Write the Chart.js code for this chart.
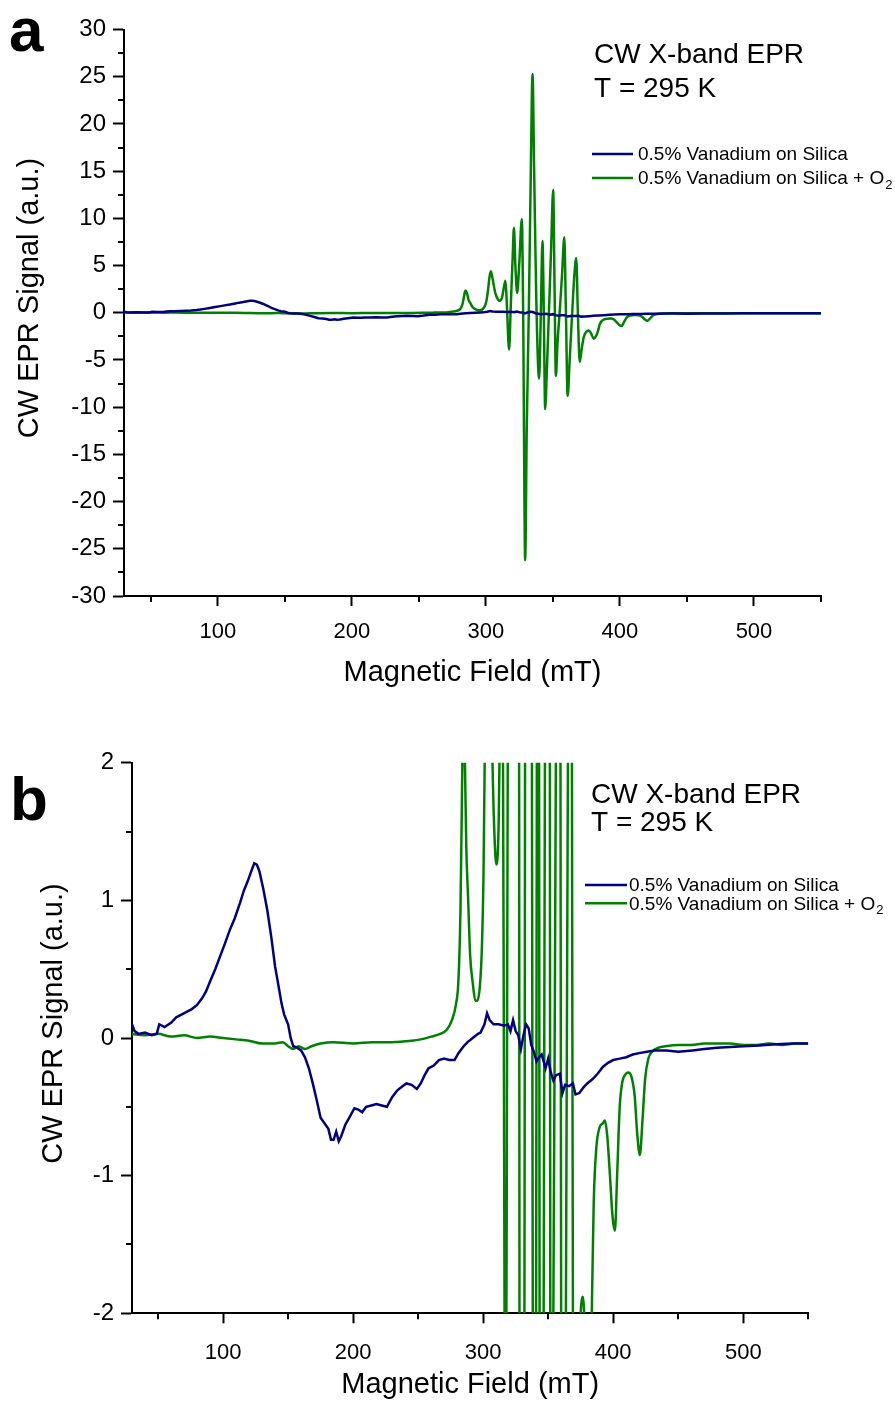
<!DOCTYPE html>
<html>
<head>
<meta charset="utf-8">
<script src="https://cdn.jsdelivr.net/npm/chart.js@4.4.1/dist/chart.umd.min.js"></script>
<style>
  html, body { margin: 0; padding: 0; background: #fff; }
  #wrap { position: relative; width: 895px; height: 1402px; }
  canvas { position: absolute; left: 0; }
</style>
</head>
<body>
<div id="wrap">
  <canvas id="chartA" width="895" height="700" style="top:0"></canvas>
  <canvas id="chartB" width="895" height="702" style="top:700px"></canvas>
</div>
<script>
// ── Data (field in mT, signal in a.u.) ────────────────────────────────
const blueField = [30, 32, 35, 40, 45, 49, 51, 55, 60, 64, 68, 72, 76, 80, 84, 87, 90, 94, 98, 102,
  105, 109, 113, 116, 119, 122, 124, 126, 128, 131, 134, 137, 140, 143, 145, 147, 150, 152, 154, 157,
  160, 163, 166, 169, 172, 175, 178, 181, 183, 185, 187, 189, 191, 194, 197, 201, 204, 207, 210, 214,
  218, 222, 226, 230, 234, 238, 241, 245, 249, 252, 255, 258, 262, 266, 270, 274, 278, 281, 285, 288,
  292, 296, 298, 301, 303, 305, 308, 312, 316, 319, 321, 323, 325, 327, 329, 331, 333, 335, 337, 339,
  341, 343, 345, 348, 350, 352, 354, 356, 359, 361, 363, 366, 369, 371, 374, 377, 380, 384, 388, 392,
  396, 400, 405, 410, 415, 420, 426, 432, 441, 450, 461, 470, 480, 490, 500, 512, 525, 538, 550];
const blueSignal = [0.10, 0.05, 0.03, 0.04, 0.02, 0.03, 0.10, 0.08, 0.11, 0.15, 0.17, 0.19, 0.21, 0.24, 0.29, 0.34, 0.41, 0.50, 0.60, 0.70,
  0.78, 0.87, 0.98, 1.07, 1.14, 1.22, 1.27, 1.26, 1.21, 1.08, 0.93, 0.74, 0.52, 0.36, 0.25, 0.17, 0.10, 0.00, -0.06, -0.07,
  -0.09, -0.14, -0.22, -0.33, -0.45, -0.58, -0.62, -0.66, -0.74, -0.74, -0.68, -0.75, -0.71, -0.63, -0.58, -0.51, -0.52, -0.54, -0.50, -0.49,
  -0.48, -0.49, -0.50, -0.43, -0.38, -0.35, -0.33, -0.34, -0.37, -0.33, -0.27, -0.22, -0.20, -0.16, -0.15, -0.16, -0.16, -0.11, -0.06, -0.03,
  0.00, 0.03, 0.04, 0.10, 0.18, 0.13, 0.10, 0.10, 0.09, 0.10, 0.05, 0.13, 0.05, 0.02, -0.08, 0.02, 0.10, 0.07, -0.05, -0.10,
  -0.17, -0.14, -0.12, -0.22, -0.15, -0.25, -0.31, -0.27, -0.26, -0.40, -0.34, -0.35, -0.33, -0.41, -0.40, -0.36, -0.33, -0.30, -0.26, -0.21,
  -0.18, -0.16, -0.15, -0.14, -0.12, -0.11, -0.10, -0.09, -0.09, -0.10, -0.09, -0.08, -0.07, -0.065, -0.06, -0.055, -0.045, -0.04, -0.04];

const greenField = [30, 40, 50, 60, 70, 80, 90, 100, 110, 120, 130, 140, 146, 150, 154, 158, 163, 168, 175, 185,
  200, 215, 230, 245, 252, 260, 267, 272, 276, 279, 281, 282.5, 283.5, 284.3, 285, 286, 287, 288.5, 290, 292,
  294, 295.5, 297.5, 299, 300.3, 301.5, 302.7, 303.7, 305, 307, 309, 310.4, 312, 313.3, 314.6, 315.6, 317.3, 318.5, 320, 320.9,
  322, 323.3, 325, 326.8, 327.8, 329.3, 330.5, 332, 333.5, 334.8, 336, 337.5, 339.7, 341, 342.2, 343.2, 344.2, 345.5, 347, 348.7,
  350.2, 351.2, 352.2, 353.5, 355, 356.8, 358.5, 359.7, 361, 362.5, 364, 366, 367.4, 368.6, 370, 371.5, 373, 375, 376.7, 378.5,
  380.5, 382, 383.5, 385, 387, 389.5, 392, 393.6, 395.5, 397.5, 399.5, 401.3, 403, 405, 407, 409, 411.5, 414, 416.5, 418.5,
  420.5, 422.5, 424.5, 427, 430, 435, 440, 450, 460, 470, 480, 490, 500, 510, 520, 530, 540, 550];
const greenSignal = [0.03, 0.02, 0.03, 0.01, 0.02, 0.00, 0.01, 0.00, -0.01, -0.02, -0.04, -0.04, -0.03, -0.06, -0.08, -0.06, -0.08, -0.06, -0.04, -0.03,
  -0.04, -0.03, -0.03, -0.02, -0.01, 0.01, 0.03, 0.06, 0.13, 0.24, 0.42, 0.9, 1.6, 2.2, 2.35, 2.0, 1.4, 1.0, 0.6, 0.4,
  0.27, 0.27, 0.38, 0.65, 1.2, 2.3, 3.8, 4.4, 3.6, 2.1, 1.4, 1.26, 1.6, 2.6, 3.4, 1.0, -3.9, 0.5, 6.0, 9.0,
  5.0, 2.1, 5.5, 9.9, 0, -26.2, -12, 0, 15, 25.3, 15, 2, -7.0, 0, 7.6, 0, -10.2, -6, 0, 7,
  13.0, 3, -6.7, -3, 0, 4, 8.0, 0, -8.8, -5, -1, 4, 5.8, 0, -5.2, -3.8, -2.6, -2.0, -1.88, -2.2,
  -2.75, -2.5, -2.0, -1.2, -0.8, -0.65, -0.62, -0.60, -0.72, -1.0, -1.3, -1.40, -1.0, -0.5, -0.32, -0.27, -0.25, -0.28, -0.42, -0.7,
  -0.85, -0.6, -0.3, -0.15, -0.10, -0.07, -0.06, -0.05, -0.05, -0.04, -0.04, -0.04, -0.05, -0.05, -0.04, -0.05, -0.04, -0.04];

const seriesNames = ['0.5% Vanadium on Silica', '0.5% Vanadium on Silica + O\u2082'];
const seriesColors = ['#000080', '#008000'];

const xMajor = [100, 200, 300, 400, 500];
const xMinor = [50, 150, 250, 350, 450, 550];
const yMajorA = [-30, -25, -20, -15, -10, -5, 0, 5, 10, 15, 20, 25, 30];
const yMinorA = [-27.5, -22.5, -17.5, -12.5, -7.5, -2.5, 2.5, 7.5, 12.5, 17.5, 22.5, 27.5];
const yMajorB = [-2, -1, 0, 1, 2];
const yMinorB = [-1.5, -0.5, 0.5, 1.5];

const FONT = "'Liberation Sans', Arial, Helvetica, sans-serif";

const toPts = (xs, ys) => xs.map((x, i) => ({ x, y: ys[i] }));

// Texts, minor ticks and the legend sit on top of the library's own axes.
function decor(cfg) {
  return {
    id: 'decor',
    afterDraw(chart) {
      const ctx = chart.ctx;
      const xs = chart.scales.x, ys = chart.scales.y;
      const area = chart.chartArea;
      ctx.save();
      ctx.strokeStyle = '#000';
      ctx.lineWidth = 2;
      ctx.beginPath();
      xMinor.forEach(v => {
        const px = Math.round(xs.getPixelForValue(v));
        ctx.moveTo(px, area.bottom);
        ctx.lineTo(px, area.bottom + 6);
      });
      cfg.yMinor.forEach(v => {
        const py = Math.round(ys.getPixelForValue(v));
        ctx.moveTo(area.left - 6, py);
        ctx.lineTo(area.left, py);
      });
      ctx.stroke();

      ctx.fillStyle = '#000';
      ctx.textBaseline = 'alphabetic';

      // panel letter
      ctx.font = `bold ${cfg.letterSize}px ${FONT}`;
      ctx.textAlign = 'left';
      ctx.fillText(cfg.letter, cfg.letterX, cfg.letterY);

      // header text
      ctx.font = `28px ${FONT}`;
      ctx.fillText('CW X-band EPR', cfg.headX, cfg.headY1);
      ctx.fillText('T = 295 K', cfg.headX, cfg.headY2);

      // legend
      seriesNames.forEach((name, i) => {
        const ly = cfg.legY[i];
        ctx.strokeStyle = seriesColors[i];
        ctx.lineWidth = 2.5;
        ctx.beginPath();
        ctx.moveTo(cfg.legX0, ly);
        ctx.lineTo(cfg.legX1, ly);
        ctx.stroke();
        ctx.fillStyle = '#000';
        ctx.font = `19px ${FONT}`;
        ctx.textBaseline = 'middle';
        const sub = name.endsWith('\u2082');
        const main = sub ? name.slice(0, -1) : name;
        ctx.fillText(main, cfg.legTextX, ly + 1);
        if (sub) {
          const w = ctx.measureText(main).width;
          ctx.font = `13px ${FONT}`;
          ctx.fillText('2', cfg.legTextX + w + 1, ly + 7);
        }
        ctx.textBaseline = 'alphabetic';
      });

      // axis titles
      ctx.font = `29px ${FONT}`;
      ctx.textAlign = 'center';
      ctx.fillText('Magnetic Field (mT)', (area.left + area.right) / 2, cfg.xTitleY);
      ctx.save();
      ctx.translate(cfg.yTitleX, cfg.yTitleY);
      ctx.rotate(-Math.PI / 2);
      ctx.fillText('CW EPR Signal (a.u.)', 0, 0);
      ctx.restore();
      ctx.restore();
    }
  };
}

function buildChart(canvasId, opt) {
  return new Chart(document.getElementById(canvasId), {
    type: 'scatter',
    data: {
      datasets: [
        { label: seriesNames[0], data: toPts(blueField, blueSignal), borderColor: seriesColors[0] },
        { label: seriesNames[1], data: toPts(greenField, greenSignal), borderColor: seriesColors[1],
          cubicInterpolationMode: 'monotone' }
      ].map(d => Object.assign(d, { showLine: true, pointRadius: 0, borderWidth: 2.5, fill: false }))
    },
    options: {
      responsive: false,
      animation: false,
      events: [],
      layout: { padding: { top: opt.padTop, right: opt.padRight, left: 0, bottom: 0 } },
      plugins: { legend: { display: false }, tooltip: { enabled: false } },
      scales: {
        x: {
          type: 'linear', min: 30, max: 550,
          afterBuildTicks: s => { s.ticks = xMajor.map(v => ({ value: v })); },
          afterFit: s => { s.height = opt.xH; },
          ticks: { font: { family: FONT, size: 22 }, color: '#000', padding: opt.xPad,
                   maxRotation: 0, autoSkip: false, callback: v => String(v) },
          grid: { drawOnChartArea: false, drawTicks: true, tickLength: 10, tickWidth: 2, tickColor: '#000' },
          border: { color: '#000', width: 2 }
        },
        y: {
          type: 'linear', min: opt.yMin, max: opt.yMax,
          afterBuildTicks: s => { s.ticks = opt.yMajor.map(v => ({ value: v })); },
          afterFit: s => { s.width = opt.yW; },
          ticks: { font: { family: FONT, size: 24 }, color: '#000', padding: 7,
                   autoSkip: false, callback: v => String(v) },
          grid: { drawOnChartArea: false, drawTicks: true, tickLength: 11, tickWidth: 2, tickColor: '#000' },
          border: { color: '#000', width: 2 }
        }
      }
    },
    plugins: [decor(opt.decor)]
  });
}

// ── Panel a: full scale ───────────────────────────────────────────────
buildChart('chartA', {
  padTop: 29.5, padRight: 74, xH: 104, yW: 124, xPad: 13,
  yMin: -30, yMax: 30, yMajor: yMajorA,
  decor: {
    yMinor: yMinorA, letter: 'a', letterSize: 62, letterX: 9, letterY: 51,
    headX: 594, headY1: 63, headY2: 97,
    legX0: 592, legX1: 633, legY: [154, 178], legTextX: 638,
    xTitleY: 681, yTitleX: 38, yTitleY: 298
  }
});

// ── Panel b: zoom on ±2 ───────────────────────────────────────────────
buildChart('chartB', {
  padTop: 62.7, padRight: 86.7, xH: 88.7, yW: 132, xPad: 16,
  yMin: -2, yMax: 2, yMajor: yMajorB,
  decor: {
    yMinor: yMinorB, letter: 'b', letterSize: 62, letterX: 10, letterY: 120,
    headX: 591, headY1: 103, headY2: 131,
    legX0: 585, legX1: 627, legY: [185, 203.3], legTextX: 629,
    xTitleY: 693, yTitleX: 62, yTitleY: 323.5
  }
});
</script>
</body>
</html>
